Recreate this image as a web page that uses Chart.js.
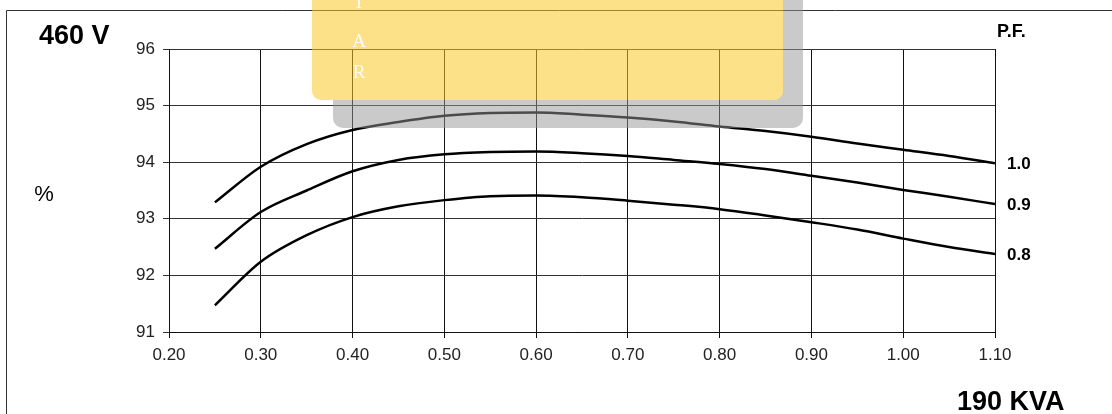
<!DOCTYPE html>
<html>
<head>
<meta charset="utf-8">
<script src="https://cdn.jsdelivr.net/npm/chart.js@4"></script>
<style>
  html, body { margin: 0; padding: 0; background: #fff; }
  #chart { display: block; }
</style>
</head>
<body>
<canvas id="chart" width="1112" height="414"></canvas>
<script>
// kva fraction on the x axis
const xs = [0.25, 0.30, 0.35, 0.40, 0.45, 0.50, 0.55, 0.60, 0.65, 0.70, 0.75, 0.80, 0.85, 0.90, 0.95, 1.00, 1.05, 1.10];
// efficiency % per power factor
const pf10 = [93.29, 93.92, 94.32, 94.57, 94.71, 94.82, 94.87, 94.88, 94.84, 94.79, 94.72, 94.63, 94.55, 94.45, 94.33, 94.22, 94.11, 93.98];
const pf09 = [92.47, 93.12, 93.50, 93.84, 94.04, 94.14, 94.18, 94.19, 94.16, 94.11, 94.04, 93.97, 93.88, 93.76, 93.64, 93.51, 93.39, 93.26];
const pf08 = [91.47, 92.24, 92.71, 93.03, 93.22, 93.33, 93.40, 93.41, 93.38, 93.32, 93.25, 93.17, 93.06, 92.94, 92.81, 92.65, 92.50, 92.38];
const seriesLabels = ['1.0', '0.9', '0.8'];
const yMin = 91, yMax = 96;
const xMin = 0.2, xMax = 1.1;

const FONT = '"Liberation Sans", Arial, sans-serif';

function toPoints(ys) {
  return xs.map(function (x, i) { return { x: x, y: ys[i] }; });
}

function makeSet(ys, label) {
  return {
    label: label,
    data: toPoints(ys),
    borderColor: '#000',
    borderWidth: 2.5,
    pointRadius: 0,
    fill: false,
    cubicInterpolationMode: 'monotone'
  };
}

// frame behind, texts and the yellow note on top
const decorations = {
  id: 'decorations',
  beforeDraw: function (chart) {
    const ctx = chart.ctx;
    ctx.save();
    ctx.strokeStyle = '#333';
    ctx.lineWidth = 1;
    ctx.beginPath();
    ctx.moveTo(1112, 10.5);
    ctx.lineTo(6.5, 10.5);
    ctx.lineTo(6.5, 414);
    ctx.stroke();
    ctx.restore();
  },
  afterDraw: function (chart) {
    const ctx = chart.ctx;
    ctx.save();
    ctx.fillStyle = '#000';
    ctx.textBaseline = 'middle';

    ctx.font = 'bold 27px ' + FONT;
    ctx.textAlign = 'left';
    ctx.fillText('460 V', 39, 37);
    ctx.fillText('190 KVA', 957, 403);

    ctx.font = '22px ' + FONT;
    ctx.textAlign = 'center';
    ctx.fillText('%', 44, 195);

    ctx.font = 'bold 18px ' + FONT;
    ctx.textAlign = 'left';
    ctx.fillText('P.F.', 997, 32);

    // series labels next to the last point of each curve
    ctx.font = 'bold 17px ' + FONT;
    chart.data.datasets.forEach(function (ds, i) {
      const meta = chart.getDatasetMeta(i);
      const last = meta.data[meta.data.length - 1];
      ctx.fillText(seriesLabels[i], last.x + 12, last.y + 1);
    });

    // the note pasted over the top of the picture: shadow first, outside the note only
    ctx.save();
    ctx.beginPath();
    ctx.rect(0, 0, chart.width, chart.height);
    ctx.roundRect(312, -20, 471, 120, 9);
    ctx.clip('evenodd');
    ctx.beginPath();
    ctx.roundRect(333, -20, 470, 148, 10);
    ctx.fillStyle = 'rgba(150,150,150,0.5)';
    ctx.fill();
    ctx.restore();

    ctx.beginPath();
    ctx.roundRect(312, -20, 471, 120, 9);
    ctx.fillStyle = 'rgba(250,200,40,0.55)';
    ctx.fill();

    ctx.fillStyle = 'rgba(255,255,255,0.9)';
    ctx.font = '19px "Liberation Serif", "DejaVu Serif", serif';
    ctx.textAlign = 'center';
    ctx.textBaseline = 'alphabetic';
    ctx.fillText('I', 359, 8);
    ctx.fillText('A', 359, 47);
    ctx.fillText('R', 359, 78);
    ctx.restore();
  }
};

new Chart(document.getElementById('chart'), {
  type: 'line',
  data: {
    datasets: [makeSet(pf10, seriesLabels[0]), makeSet(pf09, seriesLabels[1]), makeSet(pf08, seriesLabels[2])]
  },
  options: {
    responsive: false,
    animation: false,
    layout: { padding: { top: 49, right: 117, bottom: 0, left: 0 } },
    plugins: {
      legend: { display: false },
      tooltip: { enabled: false }
    },
    scales: {
      x: {
        type: 'linear',
        min: xMin,
        max: xMax,
        afterFit: function (scale) { scale.height = 82; },
        ticks: {
          stepSize: 0.1,
          padding: 7,
          color: '#222',
          font: { family: FONT, size: 17 },
          callback: function (v) { return Number(v).toFixed(2); }
        },
        grid: { color: '#111', lineWidth: 1, tickLength: 6 },
        border: { color: '#111', width: 1 }
      },
      y: {
        min: yMin,
        max: yMax,
        afterFit: function (scale) { scale.width = 169; },
        ticks: {
          stepSize: 1,
          padding: 8,
          color: '#222',
          font: { family: FONT, size: 17 }
        },
        grid: { color: '#333', lineWidth: 1, tickLength: 6 },
        border: { color: '#111', width: 1 }
      }
    }
  },
  plugins: [decorations]
});
</script>
</body>
</html>
